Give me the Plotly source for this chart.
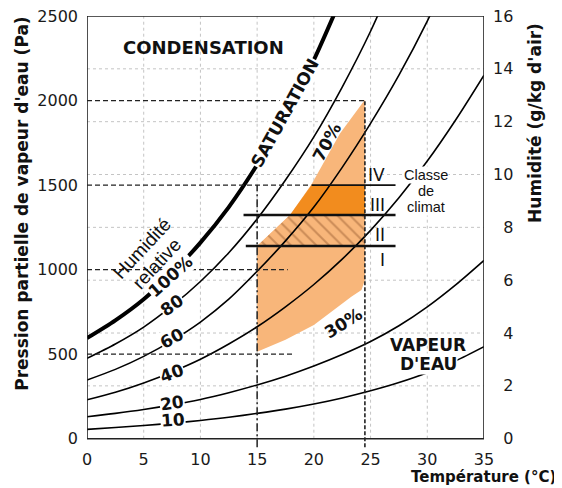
import plotly.graph_objects as go

# ---------------- data ----------------
temps = [0, 2.5, 5, 7.5, 10, 12.5, 15, 17.5, 20, 22.5, 25, 27.5, 30, 32.5, 35]
rh100 = [595, 700, 825, 980, 1160, 1370, 1620, 1910, 2240, 2620]
rh80 = [475, 560, 660, 785, 930, 1100, 1300, 1530, 1785, 2080, 2410, 2790]
rh60 = [347, 410, 487, 580, 690, 825, 990, 1170, 1370, 1605, 1865, 2150, 2470, 2830]
rh40 = [230, 275, 330, 395, 470, 560, 662, 780, 912, 1062, 1232, 1425, 1642, 1885, 2150]
rh20 = [130, 150, 173, 200, 232, 272, 318, 370, 430, 498, 575, 668, 780, 910, 1055]
rh10 = [55, 66, 78, 92, 108, 127, 150, 175, 205, 241, 283, 332, 390, 460, 544]

# comfort zone (30%..70% RH, 15..24.5 degC)
zone_T = [15, 17.5, 20, 23.3, 24.2, 24.5, 24.5, 22.3, 19.8, 17.9, 15]
zone_P = [514, 585, 672, 839, 879, 938, 2005, 1805, 1505, 1323, 1140]
class3_T = [17.9, 19.8, 24.5, 24.5]
class3_P = [1323, 1500, 1500, 1323]
class2_T = [15, 17.9, 24.5, 24.5]
class2_P = [1140, 1323, 1323, 1140]

# climate class boundaries
class_P = [1140, 1323, 1500]
class_T0 = [14.0, 13.8, 19.8]
class_T1 = [27.2, 27.2, 27.2]
class_labels = ["I", "II", "III", "IV"]

# reference dashed lines
ref_P = [500, 1000, 1500, 2000]
ref_P_end = [18.1, 17.7, 19.7, 24.5]
ref_T = [15, 24.5]
ref_T_top = [1500, 2000]

x_ticks = [0, 5, 10, 15, 20, 25, 30, 35]
y_ticks = [0, 500, 1000, 1500, 2000, 2500]
y2_ticks = [0, 2, 4, 6, 8, 10, 12, 14, 16]
grid_T = [5, 10, 15, 20, 25, 30]
grid_g = [2, 4, 6, 8, 10, 12, 14]

# ---------------- styling ----------------
LIGHT = "#F8B67A"
DARK = "#F28C1E"
HATCH = "#9C5F33"
SANS = "DejaVu Sans"
ARIAL = "Liberation Sans"
P_PER_G = 2500 / 16
YMIN = -55

fig = go.Figure()

fig.add_trace(go.Scatter(x=zone_T, y=zone_P, mode="lines", fill="toself",
                         fillcolor=LIGHT, line=dict(width=0), hoverinfo="skip"))
fig.add_trace(go.Scatter(x=class2_T, y=class2_P, mode="lines", fill="toself",
                         fillcolor=LIGHT, line=dict(width=0), hoverinfo="skip",
                         fillpattern=dict(shape="\\", bgcolor=LIGHT, fgcolor=HATCH,
                                          size=9, solidity=0.22)))
fig.add_trace(go.Scatter(x=class3_T, y=class3_P, mode="lines", fill="toself",
                         fillcolor=DARK, line=dict(width=0), hoverinfo="skip"))

for vals, w in [(rh100, 4), (rh80, 1.6), (rh60, 1.6), (rh40, 1.6), (rh20, 1.6), (rh10, 1.6)]:
    fig.add_trace(go.Scatter(x=temps[:len(vals)], y=vals, mode="lines",
                             line=dict(color="black", width=w, shape="spline", smoothing=0.8),
                             hoverinfo="skip"))

fig.add_trace(go.Scatter(x=[], y=[], yaxis="y2", mode="lines", hoverinfo="skip"))

shapes = []
for t in grid_T:
    shapes.append(dict(type="line", xref="x", yref="y", x0=t, x1=t, y0=0, y1=2500,
                       line=dict(color="#c4c4c4", width=1, dash="dot"), layer="below"))
for g in grid_g:
    shapes.append(dict(type="line", xref="x", yref="y", x0=0, x1=35, y0=g * P_PER_G, y1=g * P_PER_G,
                       line=dict(color="#c4c4c4", width=1, dash="dot"), layer="below"))
for p, te in zip(ref_P, ref_P_end):
    shapes.append(dict(type="line", xref="x", yref="y", x0=0, x1=te, y0=p, y1=p,
                       line=dict(color="#222", width=1.3, dash="5px,3px"), layer="above"))
shapes.append(dict(type="line", xref="x", yref="y", x0=ref_T[0], x1=ref_T[0], y0=-50, y1=ref_T_top[0],
                   line=dict(color="#222", width=1.5, dash="8px,3px,2px,3px"), layer="above"))
shapes.append(dict(type="line", xref="x", yref="y", x0=ref_T[1], x1=ref_T[1], y0=-50, y1=ref_T_top[1],
                   line=dict(color="#222", width=1.6, dash="4px,2px"), layer="above"))
for p, t0, t1, w in zip(class_P, class_T0, class_T1, [2.6, 2.6, 1.8]):
    shapes.append(dict(type="line", xref="x", yref="y", x0=t0, x1=t1, y0=p, y1=p,
                       line=dict(color="#111", width=w), layer="above"))
shapes.append(dict(type="rect", xref="x", yref="y", x0=0, x1=35, y0=0, y1=2500,
                   line=dict(color="#222", width=1.6), layer="above"))

ann = []


def add(text, x, y, size=17, angle=0, family=SANS, bold=True, bg=None, xanchor="center",
        xref="x", yref="y"):
    d = dict(text=("<b>%s</b>" % text) if bold else text, x=x, y=y, xref=xref, yref=yref,
             showarrow=False, textangle=angle, xanchor=xanchor, yanchor="middle",
             font=dict(family=family, size=size, color="#111"), borderpad=0)
    if bg:
        d["bgcolor"] = bg
    ann.append(d)


add("CONDENSATION", 10.23, 2314, size=18)
add("SATURATION", 17.46, 1924, size=17, angle=-61, bg="white")
add("Humidité", 4.85, 1122, size=19, angle=-47, family=ARIAL, bold=False)
add("relative", 6.15, 1037, size=19, angle=-47, family=ARIAL, bold=False)
add("100%", 7.39, 963, size=17, angle=-42, bg="white")
add("80", 7.51, 791, size=17, angle=-35, bg="white")
add("60", 7.52, 594, size=17, angle=-29, bg="white")
add("40", 7.52, 387, size=17, angle=-21, bg="white")
add("20", 7.52, 213, size=17, angle=-9, bg="white")
add("10", 7.61, 108, size=17, angle=-4, bg="white")
add("70%", 21.13, 1757, size=17, angle=-62)
add("30%", 22.6, 683, size=17, angle=-32)
add("VAPEUR", 30.1, 556, size=17)
add("D'EAU", 30.1, 443, size=17, bg="white")
for lab, p in zip(class_labels, [1057, 1203, 1381, 1559]):
    add(lab, 26.4, p, size=17, bold=False, xanchor="right")
add("Classe", 29.9, 1560, size=14.5, family=ARIAL, bold=False, bg="white")
add("de", 29.9, 1464, size=14.5, family=ARIAL, bold=False, bg="white")
add("climat", 29.9, 1370, size=14.5, family=ARIAL, bold=False, bg="white")

add("Pression partielle de vapeur d'eau (Pa)", -0.164, 0.565, size=17, angle=-90,
    xref="paper", yref="paper")
add("Humidité (g/kg d'air)", 1.128, 0.752, size=17, angle=-90, xref="paper", yref="paper")
add("Température (°C)", 1.184, -0.0675, size=15, xanchor="right", xref="paper", yref="paper")

tickfont = dict(family=SANS, size=16, color="#1a1a1a")
# the page body adds an 8 px offset, so the figure is 8 px smaller on each axis
fig.update_layout(
    width=554, height=480, autosize=False,
    margin=dict(l=79, r=78, t=8, b=40, autoexpand=False),
    paper_bgcolor="white", plot_bgcolor="white", showlegend=False,
    xaxis=dict(range=[0, 35], tickvals=x_ticks, showgrid=False, zeroline=False,
               showline=False, ticks="", tickfont=tickfont, automargin=False,
               ticklabeloverflow="allow"),
    yaxis=dict(range=[YMIN, 2500], tickvals=y_ticks, showgrid=False, zeroline=False,
               showline=False, ticks="", tickfont=tickfont, ticklabelstandoff=8,
               automargin=False, ticklabeloverflow="allow"),
    yaxis2=dict(range=[YMIN / P_PER_G, 16], tickvals=y2_ticks,
                ticktext=[("\u2007%d" % v) if v < 10 else str(v) for v in y2_ticks],
                overlaying="y", side="right", showgrid=False, zeroline=False,
                showline=False, ticks="", tickfont=tickfont, ticklabelstandoff=8,
                automargin=False, ticklabeloverflow="allow"),
    shapes=shapes, annotations=ann,
)

fig.write_html("out.html")
